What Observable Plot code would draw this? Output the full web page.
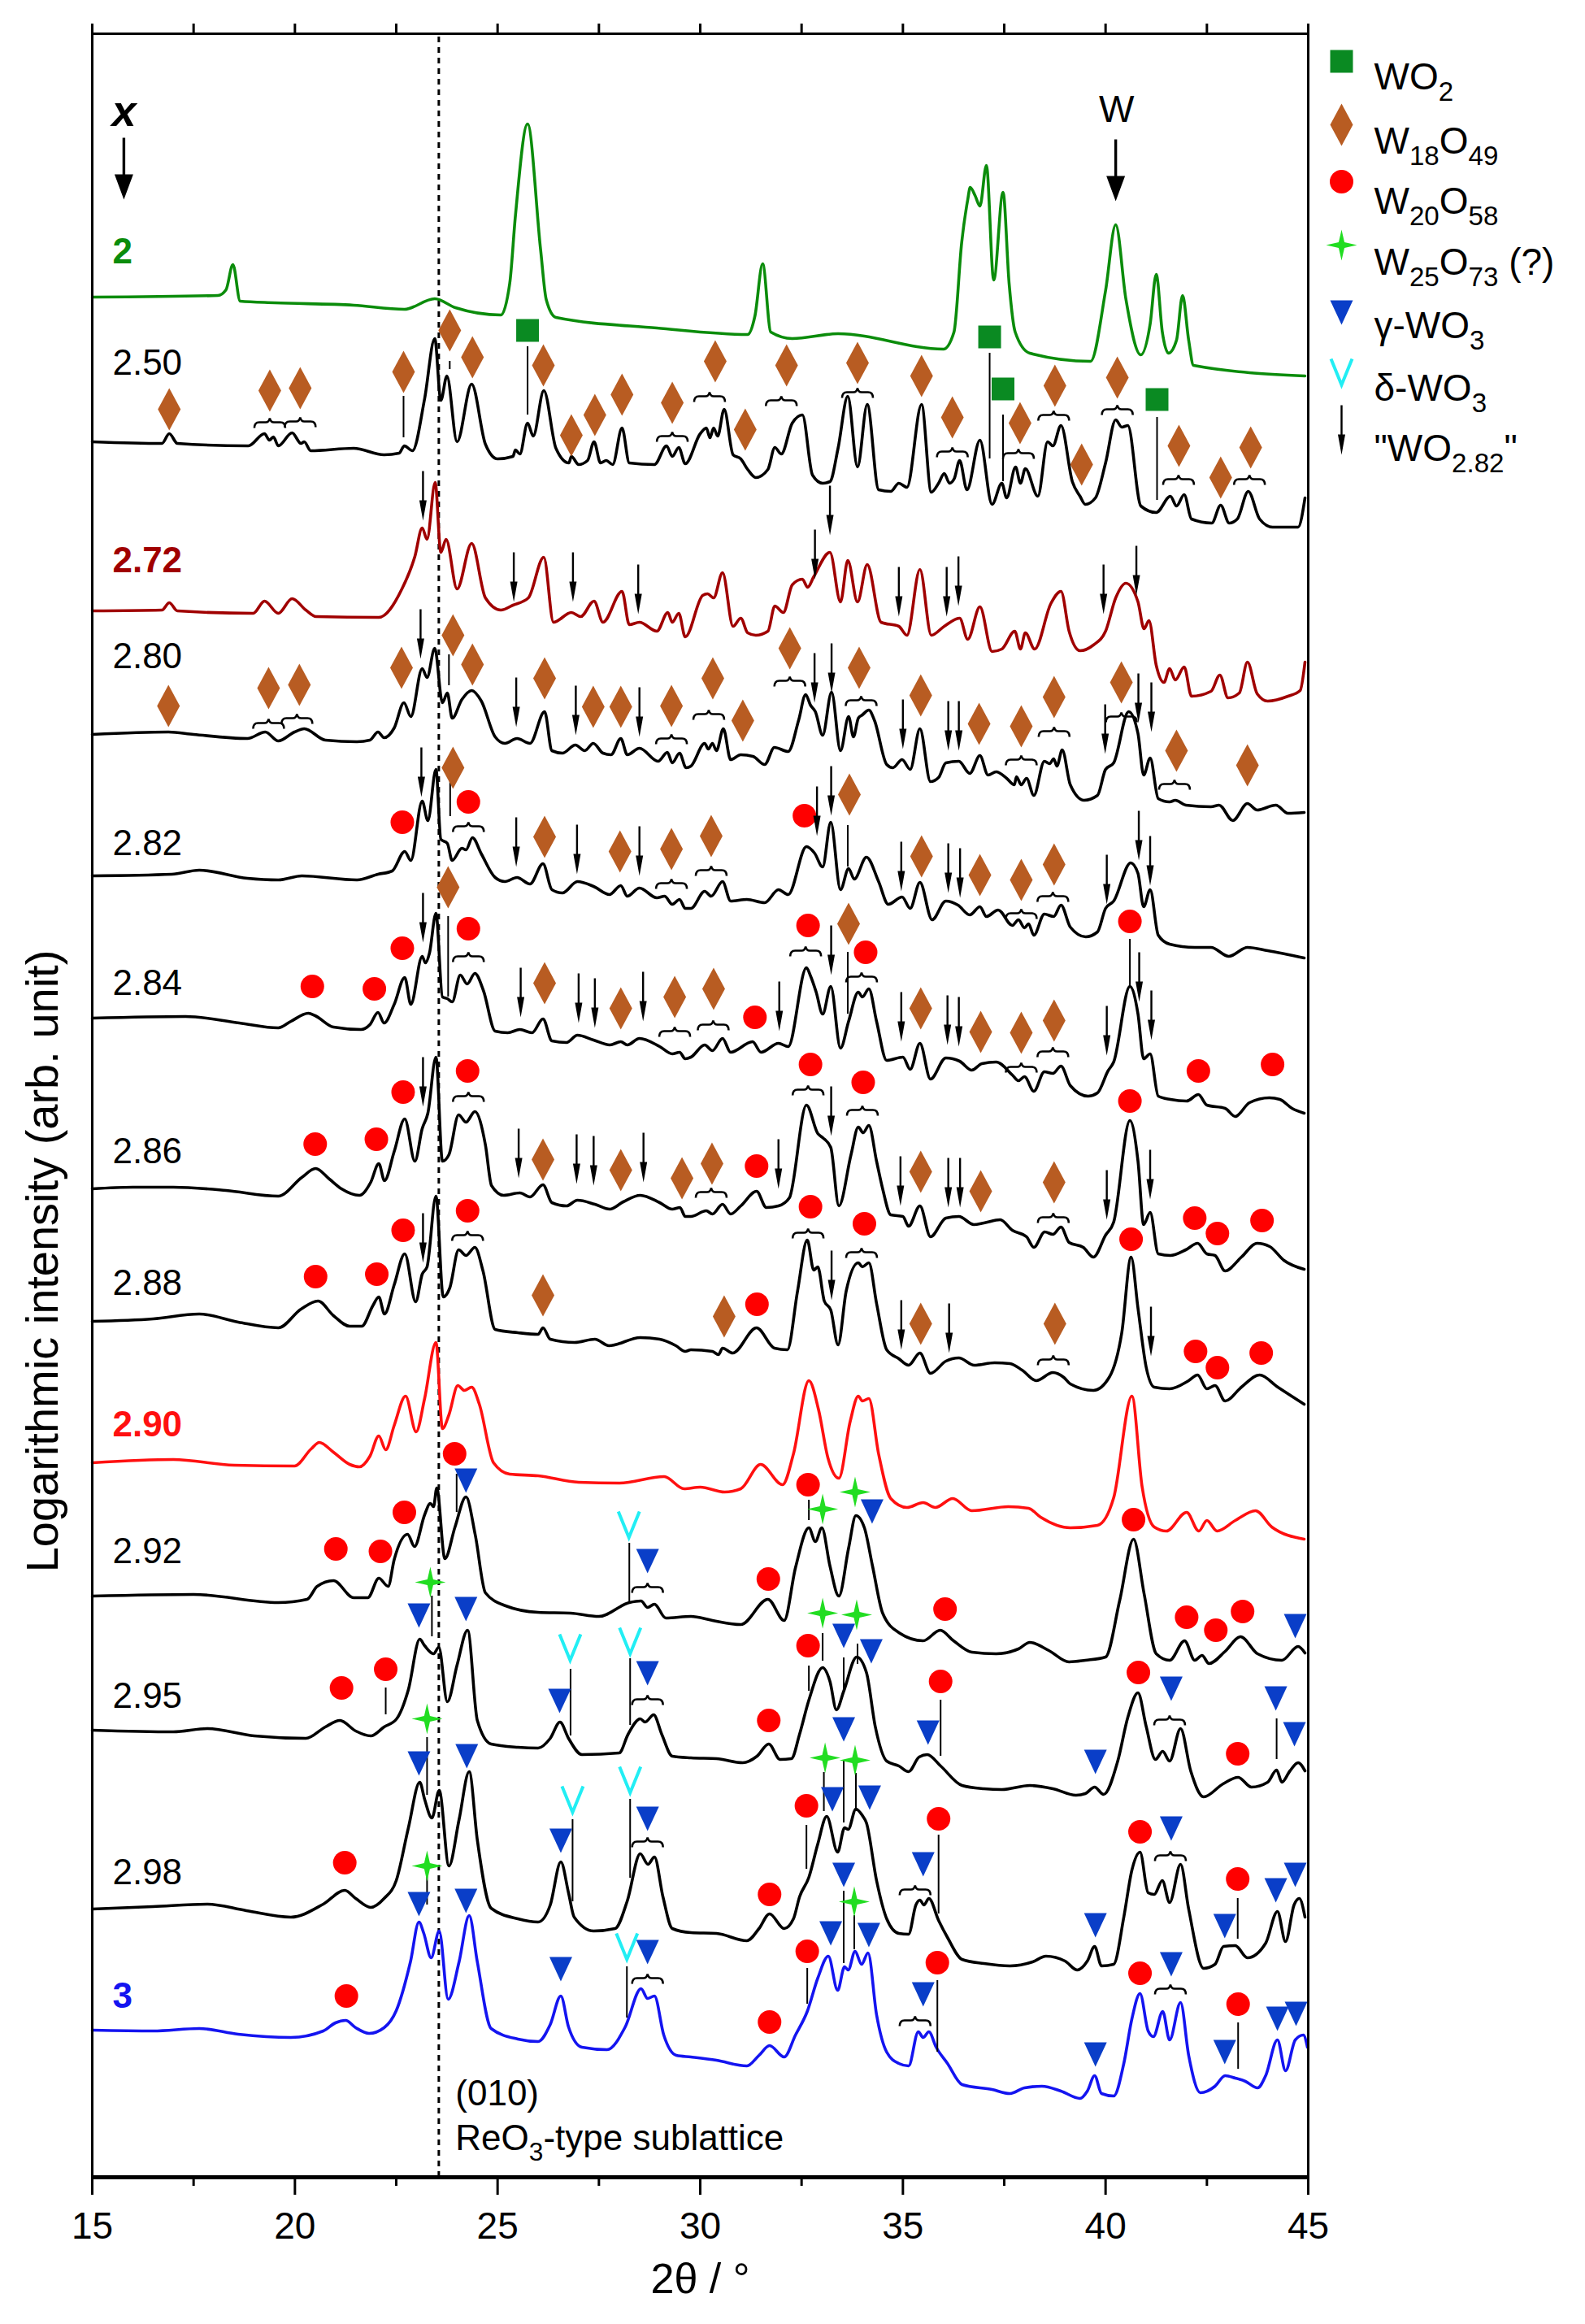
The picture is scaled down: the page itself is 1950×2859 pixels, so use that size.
<!DOCTYPE html>
<html><head><meta charset="utf-8">
<script src="https://cdn.jsdelivr.net/npm/d3@7"></script>
<script src="https://cdn.jsdelivr.net/npm/@observablehq/plot@0.6"></script>
<style>html,body{margin:0;padding:0;background:#fff}svg{display:block}</style>
</head><body><div id="chart"></div>
<script>
// ---------------- DATA (2θ in degrees, log intensity + offset in arbitrary units) ----------------
const thetaTicks = [15, 20, 25, 30, 35, 40, 45];
const minorTicks = [17.5, 22.5, 27.5, 32.5, 37.5, 42.5];
const allTicks = [15, 17.5, 20, 22.5, 25, 27.5, 30, 32.5, 35, 37.5, 40, 42.5, 45];
const sampleNames = ["2", "2.50", "2.72", "2.80", "2.82", "2.84", "2.86", "2.88", "2.90", "2.92", "2.95", "2.98", "3"];

const scan_2 = [[15.0,2313],[18.1,2315],[18.3,2322],[18.47,2353],[18.65,2308],[19.5,2306],[21.45,2303],[22.7,2298],[23.45,2311],[23.96,2300],[25.08,2291],[25.3,2330],[25.44,2413],[25.74,2526],[26.06,2372],[26.2,2310],[26.44,2288],[28.93,2275],[31.17,2267],[31.35,2290],[31.54,2354],[31.74,2270],[32.27,2262],[33.4,2268],[36.0,2249],[36.26,2270],[36.45,2380],[36.6,2433],[36.66,2448],[36.78,2438],[36.9,2425],[37.06,2475],[37.24,2334],[37.47,2442],[37.62,2330],[37.77,2270],[38.13,2244],[39.63,2234],[40.0,2321],[40.25,2402],[40.5,2311],[40.87,2242],[41.1,2280],[41.25,2341],[41.4,2270],[41.55,2244],[41.75,2260],[41.9,2315],[42.05,2260],[42.17,2229],[44.92,2216]];
const scan_250 = [[15.0,2135],[16.72,2133],[16.9,2145],[17.1,2133],[18.85,2130],[19.25,2145],[19.37,2137],[19.47,2141],[19.59,2130],[19.93,2146],[20.15,2133],[20.23,2135],[20.39,2124],[21.45,2127],[22.2,2119],[22.57,2121],[22.7,2130],[22.9,2124],[23.2,2188],[23.45,2262],[23.6,2186],[23.75,2216],[24.0,2135],[24.36,2206],[24.7,2132],[25.0,2114],[25.38,2117],[25.44,2125],[25.55,2120],[25.74,2158],[25.88,2142],[26.14,2198],[26.44,2127],[26.76,2109],[26.82,2117],[27.0,2107],[27.22,2112],[27.38,2135],[27.54,2109],[27.68,2112],[27.84,2107],[28.07,2152],[28.25,2109],[28.87,2107],[29.17,2130],[29.31,2117],[29.47,2128],[29.63,2108],[30.0,2145],[30.15,2152],[30.24,2140],[30.33,2152],[30.43,2142],[30.59,2175],[30.81,2119],[31.0,2114],[31.17,2101],[31.37,2091],[31.67,2101],[31.84,2128],[32.0,2120],[32.27,2158],[32.52,2168],[32.77,2094],[33.02,2084],[33.2,2086],[33.4,2127],[33.64,2191],[33.88,2104],[34.12,2181],[34.4,2076],[34.7,2074],[34.9,2084],[35.1,2079],[35.46,2181],[35.7,2073],[35.88,2084],[36.02,2096],[36.15,2084],[36.27,2090],[36.4,2112],[36.58,2076],[36.9,2137],[37.2,2058],[37.44,2084],[37.56,2066],[37.78,2104],[37.9,2084],[38.02,2102],[38.33,2068],[38.57,2135],[38.7,2130],[38.9,2155],[39.18,2086],[39.37,2068],[39.5,2058],[39.75,2066],[40.0,2109],[40.25,2162],[40.4,2153],[40.55,2155],[40.87,2056],[41.25,2048],[41.6,2068],[41.75,2056],[41.94,2070],[42.12,2040],[42.62,2035],[42.84,2057],[43.05,2035],[43.25,2040],[43.52,2074],[43.8,2040],[44.12,2030],[44.75,2030],[44.92,2066]];
const scan_272 = [[15.0,1927],[16.72,1928],[16.9,1937],[17.1,1927],[18.97,1924],[19.25,1939],[19.59,1924],[19.93,1942],[20.27,1928],[20.52,1920],[22.07,1919],[22.64,1954],[22.96,1994],[23.14,2029],[23.26,2015],[23.46,2085],[23.6,1999],[23.73,2015],[24.0,1954],[24.36,2010],[24.7,1943],[25.08,1928],[25.38,1934],[25.76,1943],[26.14,1993],[26.38,1913],[26.82,1925],[27.05,1920],[27.38,1939],[27.6,1913],[28.07,1951],[28.25,1910],[28.5,1913],[28.93,1902],[29.2,1925],[29.31,1913],[29.47,1924],[29.63,1895],[30.06,1946],[30.18,1948],[30.33,1943],[30.55,1974],[30.81,1908],[31.0,1918],[31.17,1900],[31.37,1897],[31.67,1902],[31.84,1933],[32.05,1925],[32.27,1959],[32.52,1966],[32.65,1956],[32.8,1969],[33.2,1999],[33.46,1938],[33.64,1989],[33.88,1938],[34.12,1984],[34.46,1913],[34.9,1908],[35.1,1897],[35.42,1978],[35.7,1897],[36.02,1908],[36.4,1918],[36.6,1892],[36.9,1932],[37.2,1877],[37.44,1880],[37.76,1902],[37.9,1880],[38.02,1900],[38.25,1880],[38.65,1936],[38.9,1951],[39.1,1902],[39.37,1878],[39.7,1885],[40.0,1902],[40.25,1943],[40.5,1961],[40.8,1938],[40.95,1905],[41.07,1915],[41.25,1860],[41.44,1839],[41.58,1856],[41.72,1842],[41.94,1858],[42.12,1822],[42.6,1828],[42.82,1848],[43.02,1820],[43.3,1826],[43.5,1864],[43.74,1825],[44.0,1816],[44.5,1822],[44.8,1829],[44.92,1864]];
const scan_280 = [[15.0,1775],[16.88,1778],[17.5,1775],[18.83,1770],[19.27,1778],[19.59,1767],[19.99,1778],[20.23,1782],[20.75,1768],[21.53,1766],[21.85,1768],[22.05,1778],[22.2,1771],[22.45,1783],[22.69,1814],[22.86,1797],[23.14,1856],[23.26,1845],[23.45,1881],[23.64,1814],[23.76,1826],[23.88,1795],[24.12,1818],[24.36,1829],[24.6,1816],[24.94,1772],[25.18,1764],[25.48,1770],[25.8,1764],[26.16,1803],[26.34,1755],[26.6,1752],[26.92,1762],[27.15,1755],[27.36,1764],[27.6,1752],[27.8,1750],[28.04,1770],[28.2,1750],[28.5,1758],[28.96,1742],[29.19,1753],[29.31,1740],[29.49,1752],[29.65,1734],[29.77,1736],[30.11,1764],[30.2,1757],[30.3,1764],[30.4,1755],[30.57,1782],[30.75,1744],[31.0,1750],[31.3,1748],[31.59,1738],[31.83,1759],[32.17,1754],[32.43,1793],[32.6,1824],[32.72,1811],[32.84,1803],[33.02,1774],[33.24,1827],[33.46,1755],[33.66,1797],[33.78,1772],[33.9,1795],[34.0,1799],[34.16,1805],[34.3,1792],[34.6,1738],[34.75,1734],[34.98,1744],[35.18,1732],[35.42,1782],[35.68,1717],[35.88,1722],[36.06,1740],[36.38,1742],[36.65,1727],[36.9,1749],[37.1,1725],[37.3,1729],[37.56,1721],[37.75,1713],[37.8,1723],[37.92,1713],[38.05,1721],[38.23,1700],[38.49,1742],[38.62,1739],[38.72,1745],[38.8,1736],[38.93,1756],[39.13,1713],[39.47,1694],[39.8,1700],[40.0,1732],[40.2,1740],[40.57,1803],[40.8,1776],[40.94,1725],[41.1,1746],[41.3,1696],[41.58,1692],[41.72,1694],[41.98,1688],[42.6,1686],[42.8,1688],[43.14,1669],[43.5,1690],[43.74,1682],[44.2,1688],[44.5,1678],[44.9,1679]];
const scan_282 = [[15.0,1601],[16.96,1603],[17.64,1608],[18.83,1598],[19.59,1596],[20.17,1601],[21.53,1596],[22.05,1603],[22.4,1607],[22.71,1631],[22.86,1620],[23.14,1693],[23.28,1669],[23.48,1732],[23.6,1646],[23.76,1641],[23.88,1620],[24.12,1635],[24.22,1633],[24.38,1648],[24.6,1628],[24.94,1599],[25.18,1594],[25.48,1599],[25.8,1591],[26.12,1616],[26.34,1584],[26.6,1580],[26.97,1594],[27.37,1588],[27.76,1578],[28.04,1589],[28.2,1576],[28.5,1586],[28.93,1574],[29.12,1576],[29.31,1566],[29.49,1572],[29.63,1561],[29.77,1561],[30.11,1582],[30.27,1576],[30.55,1594],[30.75,1570],[31.15,1572],[31.59,1568],[31.93,1584],[32.17,1578],[32.62,1637],[32.82,1629],[33.02,1612],[33.22,1667],[33.46,1584],[33.66,1610],[33.8,1597],[34.1,1624],[34.4,1594],[34.64,1566],[34.98,1575],[35.18,1561],[35.42,1593],[35.72,1547],[36.06,1570],[36.36,1565],[36.65,1553],[36.9,1563],[37.06,1551],[37.35,1559],[37.7,1540],[37.85,1547],[38.0,1537],[38.1,1542],[38.23,1528],[38.49,1554],[38.72,1551],[38.9,1565],[39.13,1538],[39.51,1526],[39.8,1532],[40.0,1561],[40.2,1570],[40.62,1617],[40.8,1604],[40.94,1563],[41.1,1584],[41.3,1528],[41.58,1517],[42.2,1513],[42.6,1513],[43.04,1502],[43.5,1513],[44.0,1509],[44.9,1500]];
const scan_284 = [[15.0,1426],[17.3,1428],[18.63,1420],[19.59,1414],[19.9,1422],[20.33,1432],[20.5,1429],[20.95,1415],[21.63,1412],[21.85,1418],[22.05,1433],[22.2,1420],[22.45,1443],[22.71,1476],[22.86,1443],[23.14,1502],[23.22,1494],[23.32,1506],[23.48,1555],[23.64,1452],[23.76,1450],[23.88,1446],[24.08,1479],[24.25,1468],[24.44,1481],[24.65,1460],[24.94,1410],[25.25,1408],[25.55,1412],[25.85,1408],[26.12,1425],[26.34,1398],[26.7,1396],[26.97,1405],[27.37,1399],[27.77,1393],[28.04,1397],[28.2,1393],[28.5,1401],[29.0,1391],[29.31,1382],[29.49,1384],[29.63,1376],[29.77,1378],[30.11,1393],[30.3,1386],[30.55,1401],[30.75,1384],[31.29,1397],[31.5,1384],[31.93,1395],[32.17,1391],[32.62,1488],[32.72,1478],[32.86,1458],[33.02,1431],[33.22,1465],[33.46,1389],[33.66,1422],[33.9,1458],[34.0,1452],[34.16,1462],[34.35,1422],[34.6,1374],[35.0,1378],[35.18,1363],[35.42,1395],[35.68,1351],[36.06,1377],[36.4,1373],[36.7,1362],[36.95,1370],[37.3,1372],[37.7,1356],[37.85,1349],[38.0,1354],[38.23,1336],[38.49,1360],[38.7,1358],[38.9,1367],[39.13,1343],[39.57,1330],[39.8,1334],[40.06,1361],[40.2,1372],[40.6,1465],[40.8,1431],[40.94,1376],[41.1,1382],[41.3,1330],[41.6,1326],[42.0,1324],[42.29,1332],[42.5,1319],[42.95,1315],[43.2,1305],[43.55,1322],[44.04,1328],[44.3,1326],[44.6,1315],[44.9,1309]];
const scan_286 = [[15.0,1216],[16.0,1218],[17.0,1218],[18.3,1214],[19.59,1207],[20.17,1230],[20.51,1241],[20.85,1228],[21.15,1216],[21.59,1208],[21.87,1224],[22.07,1247],[22.21,1226],[22.45,1262],[22.71,1302],[22.96,1250],[23.14,1290],[23.28,1309],[23.48,1378],[23.64,1250],[23.8,1258],[24.04,1307],[24.22,1298],[24.44,1311],[24.7,1270],[24.85,1220],[25.15,1208],[25.55,1211],[25.8,1206],[26.12,1221],[26.34,1199],[26.7,1195],[26.97,1202],[27.4,1197],[27.77,1191],[28.1,1200],[28.52,1208],[29.0,1199],[29.31,1191],[29.5,1193],[29.63,1182],[29.77,1182],[30.15,1189],[30.3,1185],[30.55,1197],[30.75,1185],[31.0,1195],[31.39,1213],[31.63,1193],[31.93,1195],[32.2,1205],[32.62,1319],[32.9,1284],[33.02,1279],[33.22,1267],[33.42,1195],[33.72,1258],[33.9,1292],[34.02,1285],[34.16,1294],[34.35,1250],[34.5,1216],[34.7,1184],[35.0,1182],[35.14,1170],[35.42,1195],[35.68,1157],[36.06,1180],[36.38,1182],[36.75,1172],[37.0,1174],[37.4,1178],[37.7,1165],[38.05,1157],[38.23,1144],[38.5,1163],[38.7,1160],[38.9,1169],[39.1,1150],[39.45,1144],[39.7,1132],[40.0,1159],[40.2,1175],[40.6,1300],[40.8,1250],[40.94,1172],[41.1,1187],[41.3,1136],[41.6,1134],[41.98,1141],[42.27,1149],[42.5,1136],[42.7,1134],[42.95,1115],[43.35,1132],[43.74,1149],[44.05,1145],[44.4,1128],[44.9,1117]];
const scan_288 = [[15.0,1053],[16.5,1056],[17.64,1062],[18.6,1052],[19.59,1045],[20.15,1068],[20.57,1078],[20.95,1060],[21.35,1047],[21.65,1047],[21.92,1072],[22.07,1083],[22.21,1062],[22.45,1098],[22.71,1136],[22.98,1077],[23.14,1111],[23.26,1120],[23.48,1207],[23.66,1083],[23.82,1094],[24.04,1141],[24.22,1134],[24.44,1144],[24.64,1115],[24.94,1043],[25.5,1039],[26.0,1037],[26.12,1045],[26.3,1031],[26.9,1027],[27.4,1031],[27.75,1023],[28.52,1033],[29.0,1031],[29.4,1023],[29.63,1016],[29.77,1018],[30.3,1016],[30.45,1012],[30.55,1020],[30.8,1014],[31.39,1045],[31.83,1020],[32.15,1018],[32.4,1090],[32.64,1153],[32.8,1116],[32.9,1120],[33.06,1078],[33.22,1067],[33.4,1024],[33.6,1090],[33.9,1125],[34.0,1120],[34.16,1125],[34.35,1075],[34.6,1018],[34.9,1007],[35.14,999],[35.42,1014],[35.68,989],[36.06,1004],[36.38,1008],[36.76,999],[37.26,1002],[37.64,1001],[37.94,993],[38.29,980],[38.7,990],[38.97,984],[39.13,976],[39.7,968],[40.1,985],[40.4,1039],[40.63,1132],[40.8,1069],[41.0,997],[41.2,972],[41.58,970],[42.05,980],[42.27,987],[42.5,970],[42.7,974],[42.95,955],[43.35,972],[43.8,987],[44.25,972],[44.9,951]];
const scan_290 = [[15.0,879],[17.0,883],[18.5,876],[19.99,875],[20.4,896],[20.6,904],[20.95,892],[21.35,877],[21.59,874],[21.85,887],[22.07,912],[22.24,895],[22.45,925],[22.73,961],[22.99,917],[23.2,958],[23.48,1027],[23.64,921],[23.8,938],[24.02,974],[24.18,968],[24.36,972],[24.55,951],[24.9,879],[25.3,865],[26.0,863],[27.0,855],[28.0,854],[29.11,862],[29.6,847],[30.0,849],[30.6,843],[31.0,847],[31.49,877],[32.03,852],[32.3,890],[32.68,980],[32.92,944],[33.15,885],[33.42,860],[33.7,930],[33.9,961],[34.0,955],[34.16,958],[34.4,890],[34.7,835],[35.1,824],[35.5,830],[35.8,824],[36.23,835],[36.7,820],[37.6,825],[38.1,823],[38.4,812],[39.13,799],[39.8,802],[40.2,836],[40.65,961],[40.9,850],[41.2,800],[41.5,795],[42.0,818],[42.3,795],[42.5,808],[42.75,795],[43.2,808],[43.7,820],[44.1,800],[44.9,785]];
const scan_292 = [[15.0,715],[17.5,717],[19.59,707],[20.3,711],[20.55,727],[20.95,734],[21.45,713],[21.8,713],[22.07,737],[22.3,727],[22.45,760],[22.78,791],[22.95,776],[23.2,815],[23.34,829],[23.42,825],[23.5,848],[23.7,761],[23.95,800],[24.22,837],[24.45,790],[24.7,719],[25.2,703],[26.0,695],[26.8,694],[27.5,690],[28.25,707],[28.54,709],[28.7,701],[28.87,705],[29.15,688],[29.77,690],[30.3,685],[31.0,680],[31.67,711],[32.07,685],[32.35,750],[32.68,799],[32.84,782],[33.0,799],[33.2,752],[33.42,715],[33.66,774],[33.84,814],[34.05,799],[34.25,752],[34.5,694],[34.9,670],[35.5,660],[35.92,673],[36.25,660],[36.7,646],[37.3,644],[37.85,650],[38.13,658],[38.6,648],[39.1,634],[39.5,636],[40.0,640],[40.35,710],[40.69,785],[40.95,718],[41.25,644],[41.58,636],[41.95,660],[42.2,636],[42.38,642],[42.55,632],[42.95,647],[43.33,665],[43.75,644],[44.35,636],[44.75,653],[44.92,645]];
const scan_295 = [[15.0,550],[17.0,548],[17.84,552],[19.0,543],[20.27,540],[20.75,554],[21.11,562],[21.5,549],[21.87,543],[22.2,554],[22.51,564],[22.8,600],[23.08,662],[23.2,654],[23.42,644],[23.55,652],[23.76,585],[24.0,630],[24.26,673],[24.5,562],[24.84,533],[25.5,529],[26.0,528],[26.3,540],[26.54,560],[26.75,540],[27.08,520],[28.0,522],[28.22,545],[28.52,564],[28.64,560],[28.85,569],[29.05,545],[29.31,518],[29.77,516],[30.4,515],[31.05,510],[31.4,518],[31.69,533],[31.97,514],[32.25,515],[32.45,545],[32.68,587],[33.02,627],[33.2,610],[33.36,575],[33.54,598],[33.86,640],[34.1,621],[34.32,554],[34.6,512],[34.9,506],[35.14,499],[35.4,517],[35.6,520],[35.93,506],[36.46,482],[37.0,478],[37.44,477],[38.13,482],[38.7,478],[39.27,470],[39.5,472],[39.73,480],[39.95,471],[40.3,512],[40.55,566],[40.8,596],[41.0,555],[41.23,514],[41.41,524],[41.58,512],[41.85,552],[42.1,500],[42.42,468],[42.9,484],[43.27,492],[43.6,480],[44.0,486],[44.22,501],[44.35,486],[44.55,500],[44.75,510],[44.92,500]];
const scan_298 = [[15.0,330],[16.5,333],[17.84,336],[18.8,328],[19.9,320],[20.7,336],[21.23,353],[21.5,343],[21.87,332],[22.2,343],[22.5,365],[22.8,430],[23.08,486],[23.2,465],[23.38,442],[23.56,476],[23.8,383],[24.05,440],[24.3,499],[24.5,415],[24.84,331],[25.5,318],[26.0,314],[26.3,335],[26.56,388],[26.75,350],[26.89,320],[27.37,303],[27.9,306],[28.2,340],[28.52,398],[28.71,385],[28.87,394],[29.08,345],[29.31,306],[29.77,301],[30.4,300],[31.15,291],[31.45,306],[31.71,324],[32.07,306],[32.3,318],[32.45,345],[32.68,369],[32.9,410],[33.12,444],[33.39,400],[33.56,430],[33.65,428],[33.84,453],[34.0,445],[34.1,436],[34.35,365],[34.6,318],[34.9,300],[35.14,299],[35.32,335],[35.42,341],[35.52,335],[35.64,343],[35.88,316],[36.1,295],[36.46,268],[37.0,263],[37.64,260],[38.2,265],[38.53,272],[39.0,266],[39.3,255],[39.55,266],[39.73,284],[39.9,260],[40.2,262],[40.45,320],[40.65,378],[40.85,400],[41.05,350],[41.2,348],[41.4,365],[41.58,338],[41.85,385],[42.05,330],[42.42,257],[42.7,262],[42.91,284],[43.2,285],[43.5,270],[43.95,288],[44.24,327],[44.44,290],[44.65,335],[44.78,343],[44.92,320]];
const scan_3 = [[15.0,181],[16.5,180],[17.64,183],[18.6,176],[19.9,172],[20.7,180],[21.0,190],[21.25,193],[21.5,184],[21.83,177],[22.2,184],[22.5,205],[22.85,265],[23.06,314],[23.18,300],[23.36,270],[23.56,303],[23.78,219],[24.05,265],[24.3,322],[24.5,265],[24.84,183],[25.5,170],[26.0,167],[26.3,188],[26.56,223],[26.75,185],[27.08,160],[27.7,157],[28.15,185],[28.54,232],[28.7,220],[28.87,223],[29.1,175],[29.41,150],[29.77,148],[30.4,144],[31.15,137],[31.45,150],[31.71,162],[32.07,148],[32.35,175],[32.64,204],[32.9,245],[33.16,272],[33.39,230],[33.56,259],[33.65,255],[33.82,278],[33.98,262],[34.14,276],[34.35,200],[34.6,154],[34.9,140],[35.14,137],[35.38,179],[35.5,172],[35.64,179],[35.82,160],[36.1,140],[36.46,114],[37.2,108],[37.64,103],[38.0,110],[38.43,112],[38.9,106],[39.37,97],[39.55,106],[39.73,125],[39.9,103],[40.2,100],[40.45,140],[40.65,195],[40.85,226],[41.05,180],[41.18,173],[41.41,204],[41.58,169],[41.85,215],[42.05,150],[42.34,104],[42.7,112],[42.95,125],[43.2,122],[43.45,118],[43.75,110],[43.95,125],[44.24,169],[44.44,131],[44.68,169],[44.88,175],[44.98,160]];

// phase assignments [2θ, level]
const wo2Peaks = [[25.74,2272],[37.14,2264],[37.47,2200],[41.27,2187]];
const w18o49Peaks = [
 [16.9,2175],[19.38,2198],[20.13,2201],[22.68,2221],[23.82,2272],[24.38,2239],[26.13,2229],[26.82,2143],[27.4,2168],[28.07,2193],[29.31,2183],[30.37,2234],[31.11,2150],[32.13,2229],[33.88,2232],[35.46,2216],[36.22,2165],[37.89,2158],[38.75,2204],[39.41,2107],[40.29,2214],[41.81,2130],[42.84,2091],[43.58,2128],
 [16.88,1810],[19.35,1832],[20.11,1836],[22.63,1857],[23.9,1897],[24.38,1861],[26.16,1844],[27.36,1809],[28.04,1809],[29.29,1810],[30.31,1844],[31.05,1792],[32.21,1881],[33.92,1857],[35.44,1823],[36.88,1788],[37.92,1785],[38.73,1821],[40.39,1839],[41.75,1755],[43.5,1737],
 [23.9,1734],[26.16,1649],[28.02,1631],[29.29,1634],[30.27,1650],[33.68,1701],[35.46,1625],[36.9,1602],[37.92,1596],[38.73,1615],
 [23.78,1587],[26.16,1469],[28.04,1438],[29.37,1452],[30.33,1462],[33.66,1542],[35.44,1438],[36.92,1409],[37.92,1408],[38.73,1423],
 [26.12,1252],[28.04,1239],[29.55,1229],[30.29,1247],[35.44,1237],[36.92,1213],[38.73,1224],
 [26.12,1085],[30.59,1059],[35.44,1050],[38.75,1050]];
const w20o58Peaks = [
 [22.65,1667],[24.28,1692],[32.57,1675],
 [20.43,1465],[21.96,1462],[22.65,1512],[24.28,1536],[31.35,1427],[32.66,1540],[34.08,1507],[40.6,1545],[42.29,1361],[44.12,1369],
 [20.5,1271],[22.01,1277],[22.67,1335],[24.26,1361],[31.39,1244],[32.72,1369],[34.02,1347],[40.6,1324],[42.2,1180],[42.76,1161],[43.86,1177],
 [20.51,1108],[22.02,1111],[22.67,1165],[24.26,1189],[31.4,1074],[32.72,1194],[34.05,1173],[40.63,1154],[42.22,1016],[42.76,996],[43.84,1014],
 [21.01,773],[22.11,770],[22.7,818],[23.94,890],[31.68,736],[32.66,852],[36.04,699],[40.69,809],[42.0,689],[42.72,673],[43.38,696],
 [21.15,602],[22.24,625],[31.69,562],[32.66,654],[35.93,610],[40.81,621],[43.26,521],
 [21.23,387],[31.71,348],[32.62,457],[35.88,441],[40.85,425],[43.26,367],
 [21.27,223],[31.71,191],[32.64,278],[35.85,264],[40.85,251],[43.27,213]];
const w25o73Peaks = [[33.02,822],[33.82,843],[23.34,732],[33.02,694],[33.86,692],[23.26,564],[33.08,516],[33.82,513],[23.26,383],[33.8,339]];
const gammaWO3Peaks = [
 [24.22,858],[28.7,759],[34.24,820],[44.68,679],
 [23.06,692],[24.22,700],[26.53,587],[28.7,621],[33.54,667],[34.22,648],[35.62,548],[39.75,512],[41.62,602],[44.2,590],[44.66,546],
 [23.06,510],[24.24,519],[26.56,415],[28.7,442],[33.26,466],[33.54,552],[34.18,468],[35.5,386],[39.75,311],[41.62,430],[42.94,310],[44.2,354],[44.68,373],
 [23.06,337],[24.22,341],[26.56,257],[28.7,278],[33.22,301],[33.54,373],[34.16,299],[35.5,226],[39.75,152],[41.62,263],[42.94,155],[44.24,196],[44.7,202]];
const deltaWO3Peaks = [[28.24,803],[26.79,652],[28.27,660],[26.85,465],[28.27,489],[28.19,284]];
const wo282Peaks = [
 [23.16,2038],[25.4,1938],[26.86,1938],[28.47,1923],[32.83,1966],[33.2,2020],[34.9,1920],[36.08,1920],[36.37,1933],[39.95,1923],[40.76,1946],
 [23.1,1868],[25.46,1784],[26.93,1774],[28.5,1772],[32.82,1814],[33.24,1826],[35.0,1757],[36.12,1755],[36.38,1755],[39.99,1751],[40.81,1789],[41.13,1778],
 [23.12,1698],[25.46,1612],[26.96,1603],[28.5,1601],[32.88,1650],[33.23,1675],[34.96,1582],[36.12,1580],[36.41,1574],[40.03,1566],[40.82,1620],[41.1,1589],
 [23.16,1519],[25.57,1427],[27.0,1420],[27.4,1414],[28.59,1422],[31.95,1410],[33.23,1479],[34.96,1397],[36.1,1393],[36.38,1391],[40.03,1380],[40.83,1446],[41.13,1399],
 [23.16,1317],[25.52,1229],[26.95,1222],[27.37,1220],[28.6,1224],[31.93,1216],[33.23,1281],[34.94,1195],[36.12,1193],[36.41,1193],[40.03,1178],[41.1,1203],
 [23.16,1125],[33.24,1079],[34.96,1018],[36.14,1014],[41.12,1010]];
// leader lines [2θ, from, to]
const leaderLines = [
 [22.68,2191,2140],[23.82,2234,2224],[25.74,2252,2168],[37.14,2244,2114],[37.47,2168,2086],[41.27,2165,2063],
 [23.8,1873,1835],[23.83,1720,1674],[33.64,1663,1612],
 [23.78,1551,1452],[33.64,1507,1431],[40.6,1523,1465],
 [23.99,865,818],[28.25,780,707],[32.68,833,808],
 [22.24,602,569],[23.38,715,665],[26.8,625,543],[28.27,638,556],[32.68,629,598],[33.02,669,635],[33.54,639,598],[33.88,656,631],[35.93,587,518],[44.22,564,514],
 [23.26,541,470],[26.85,440,339],[28.27,465,368],[32.62,433,379],[33.05,498,450],[33.54,513,436],[33.84,497,450],[35.88,421,324],[43.26,343,293],
 [23.26,392,335],[28.19,259,196],[32.64,257,213],[33.54,352,263],[33.8,322,280],[35.85,242,154],[43.27,190,133]];
// grouped reflections (braces) [2θ, level]
const braceMarks = [
 [19.38,2159],[20.13,2160],[29.31,2142],[30.23,2191],[32.0,2186],[33.88,2196],[36.22,2123],[37.85,2121],[38.72,2168],[40.29,2175],[41.8,2089],[43.55,2089],
 [19.35,1789],[20.05,1795],[29.29,1770],[30.21,1800],[32.21,1841],[33.97,1817],[37.92,1744],[38.73,1779],[40.39,1797],[41.7,1714],
 [24.28,1662],[29.29,1592],[30.27,1608],[37.92,1555],[38.7,1576],
 [24.28,1502],[29.37,1410],[30.32,1418],[32.6,1509],[33.98,1477],[37.92,1366],[38.7,1385],
 [24.28,1330],[30.27,1212],[32.66,1338],[34.0,1313],[38.71,1181],
 [24.26,1159],[32.66,1162],[33.98,1138],[38.71,1006],
 [28.7,726],[28.7,588],[41.58,563],[28.7,413],[35.3,354],[41.6,396],[28.7,245],[35.3,193],[41.6,232]];
const legendLabels = ["WO_{2}", "W_{18}O_{49}", "W_{20}O_{58}", "W_{25}O_{73} (?)", "γ-WO_{3}", "δ-WO_{3}", "\"WO_{2.82}\""];

// ---------------- LAYOUT / STYLE ----------------
const scans = [scan_2, scan_250, scan_272, scan_280, scan_282, scan_284, scan_286, scan_288, scan_290, scan_292, scan_295, scan_298, scan_3];
const labelLevels = [2369, 2232, 1989, 1871, 1641, 1469, 1262, 1100, 926, 770, 592, 375, 223];
const scanColor = {"2": "#0b8c0b", "2.72": "#a00000", "2.90": "#ff1010", "3": "#1414f0"};
const boldSet = new Set(["2", "2.72", "2.90", "3"]);
const C = {square: "#0a8a22", diamond: "#b85c22", circle: "#ff0000", star: "#22dd22", tri: "#0a3ec8", v: "#22eef4"};
const FONT = "'Liberation Sans', Arial, Helvetica, sans-serif";

const squareSym = {draw(c) { c.moveTo(-14,-14); c.lineTo(14,-14); c.lineTo(14,14); c.lineTo(-14,14); c.closePath(); }};
const diamondSym = {draw(c) { c.moveTo(0,-26); c.lineTo(14,0); c.lineTo(0,26); c.lineTo(-14,0); c.closePath(); }};
const triSym = {draw(c) { c.moveTo(-14,-14); c.lineTo(14,-14); c.lineTo(0,16); c.closePath(); }};
const starSym = {draw(c) { for (let i = 0; i < 8; i++) { const r = i % 2 ? 5 : 19, a = i * Math.PI / 4 - Math.PI / 2; const px = r * Math.cos(a), py = r * Math.sin(a); if (i) c.lineTo(px, py); else c.moveTo(px, py); } c.closePath(); }};
const vSym = {draw(c) { c.moveTo(-13,-16); c.lineTo(0,16); c.lineTo(13,-16); }};
const arrowSym = {draw(c) { c.moveTo(-1.2,-61); c.lineTo(1.2,-61); c.lineTo(1.2,-25); c.lineTo(4.5,-25); c.lineTo(0,0); c.lineTo(-4.5,-25); c.lineTo(-1.2,-25); c.closePath(); }};
const bigArrowSym = {draw(c) { c.moveTo(-1.7,-76); c.lineTo(1.7,-76); c.lineTo(1.7,-31); c.lineTo(11.5,-31); c.lineTo(0,0); c.lineTo(-11.5,-31); c.lineTo(-1.7,-31); c.closePath(); }};
const braceSym = {draw(c) { c.moveTo(-19,7); c.quadraticCurveTo(-19,0,-13,0); c.lineTo(-5,0); c.quadraticCurveTo(-1,0,0,-5); c.quadraticCurveTo(1,0,5,0); c.lineTo(13,0); c.quadraticCurveTo(19,0,19,7); }};

const X = d => d[0], Y = d => d[1];
const marks = [];
marks.push(Plot.ruleX([23.55], {y1: 0, y2: 2637, stroke: "black", strokeWidth: 3, strokeDasharray: "7,6"}));
scans.forEach((s, i) => {
  const name = sampleNames[i];
  marks.push(Plot.line(s, {x: X, y: Y, stroke: scanColor[name] || "black", strokeWidth: 3.6, curve: "monotone-x"}));
});
marks.push(Plot.ruleX(leaderLines, {x: X, y1: d => d[1], y2: d => d[2], stroke: "black", strokeWidth: 2}));
marks.push(Plot.dot(braceMarks, {x: X, y: Y, symbol: braceSym, r: 1, fill: "none", stroke: "black", strokeWidth: 2.6}));
marks.push(Plot.dot(wo2Peaks, {x: X, y: Y, symbol: squareSym, r: 1, fill: C.square, stroke: "none"}));
marks.push(Plot.dot(w18o49Peaks, {x: X, y: Y, symbol: diamondSym, r: 1, fill: C.diamond, stroke: "none"}));
marks.push(Plot.dot(w20o58Peaks, {x: X, y: Y, r: 14.5, fill: C.circle, stroke: "none"}));
marks.push(Plot.dot(w25o73Peaks, {x: X, y: Y, symbol: starSym, r: 1, fill: C.star, stroke: "none"}));
marks.push(Plot.dot(gammaWO3Peaks, {x: X, y: Y, symbol: triSym, r: 1, fill: C.tri, stroke: "none"}));
marks.push(Plot.dot(deltaWO3Peaks, {x: X, y: Y, symbol: vSym, r: 1, fill: "none", stroke: C.v, strokeWidth: 4}));
marks.push(Plot.dot(wo282Peaks, {x: X, y: Y, symbol: arrowSym, r: 1, fill: "black", stroke: "none"}));
sampleNames.forEach((name, i) => {
  marks.push(Plot.text([name], {x: 15.5, y: labelLevels[i], text: d => d, textAnchor: "start", fontSize: 44,
    fill: scanColor[name] || "black", fontWeight: boldSet.has(name) ? "bold" : "normal"}));
});
marks.push(Plot.text(["x"], {x: 15.78, y: 2541, text: d => d, fontSize: 54, fontWeight: "bold", fontStyle: "italic", fill: "black"}));
marks.push(Plot.dot([[15.78, 2433]], {x: X, y: Y, symbol: bigArrowSym, r: 1, fill: "black", stroke: "none"}));
marks.push(Plot.text(["W"], {x: 40.27, y: 2543, text: d => d, fontSize: 46, fill: "black"}));
marks.push(Plot.dot([[40.25, 2431]], {x: X, y: Y, symbol: bigArrowSym, r: 1, fill: "black", stroke: "none"}));
marks.push(Plot.text(["(010)"], {x: 23.96, y: 103, text: d => d, textAnchor: "start", fontSize: 44}));
marks.push(Plot.text(["ReO_{3}-type sublattice"], {x: 23.96, y: 48, text: d => d, textAnchor: "start", fontSize: 44}));
marks.push(Plot.frame({stroke: "black", strokeWidth: 3}));
marks.push(Plot.ruleY([0], {stroke: "black", strokeWidth: 5}));
marks.push(Plot.axisX({ticks: thetaTicks, tickSize: 22, tickPadding: 21, fontSize: 46, strokeWidth: 3, label: null, tickFormat: d => String(d)}));
marks.push(Plot.axisX({ticks: minorTicks, tickSize: 11, strokeWidth: 3, label: null, tickFormat: () => ""}));
marks.push(Plot.axisX({anchor: "top", ticks: allTicks, tickSize: 13, strokeWidth: 3, label: null, tickFormat: () => ""}));
marks.push(Plot.text(["2θ / °"], {frameAnchor: "bottom", dy: 142, text: d => d, fontSize: 52}));
// y title: centred at pixel (52, 1551) → placed in data coordinates left of the frame
marks.push(Plot.text(["Logarithmic intensity (arb. unit)"], {x: 13.78, y: 1127, rotate: -90, text: d => d, fontSize: 56}));
const legendSyms = [
  {symbol: squareSym, fill: C.square, stroke: "none"},
  {symbol: diamondSym, fill: C.diamond, stroke: "none"},
  {symbol: "circle", r: 14.5, fill: C.circle, stroke: "none"},
  {symbol: starSym, fill: C.star, stroke: "none"},
  {symbol: triSym, fill: C.tri, stroke: "none"},
  {symbol: vSym, fill: "none", stroke: C.v, strokeWidth: 4},
  {symbol: arrowSym, fill: "black", stroke: "none"}
];
const legendMarkerY = [75, 153, 223, 301, 383, 457, 559];
const legendTextY = [77, 156, 230, 305, 383, 460, 534];
legendLabels.forEach((lab, i) => {
  const o = legendSyms[i];
  marks.push(Plot.dot([0], {frameAnchor: "top-left", dx: 1537, dy: legendMarkerY[i] - 41, r: o.r || 1, symbol: o.symbol, fill: o.fill, stroke: o.stroke, strokeWidth: o.strokeWidth || 1}));
  marks.push(Plot.text([lab], {frameAnchor: "top-left", dx: 1577, dy: legendTextY[i] - 41, text: d => d, textAnchor: "start", fontSize: 46}));
});

const svg = Plot.plot({
  width: 1950, height: 2859,
  marginLeft: 113, marginRight: 341, marginTop: 41, marginBottom: 181,
  x: {domain: [15, 45]},
  y: {domain: [0, 2637], axis: null},
  style: {fontFamily: FONT, background: "white", color: "black", overflow: "visible"},
  marks
});

for (const t of svg.querySelectorAll("text")) {
  const s = t.textContent;
  if (!s.includes("_{")) continue;
  const fsEl = t.closest("[font-size]");
  const fs = fsEl ? parseFloat(fsEl.getAttribute("font-size")) : 44;
  const shift = fs * 0.3;
  const parts = s.split(/(_\{[^}]*\})/).filter(p => p);
  while (t.firstChild) t.removeChild(t.firstChild);
  let down = false;
  for (const p of parts) {
    const ts = document.createElementNS("http://www.w3.org/2000/svg", "tspan");
    if (p.startsWith("_{")) {
      ts.textContent = p.slice(2, -1);
      ts.setAttribute("font-size", fs * 0.72);
      if (!down) { ts.setAttribute("dy", shift); down = true; }
    } else {
      ts.textContent = p;
      if (down) { ts.setAttribute("dy", -shift); down = false; }
    }
    t.appendChild(ts);
  }
}
document.getElementById("chart").appendChild(svg);
</script>
</body></html>
